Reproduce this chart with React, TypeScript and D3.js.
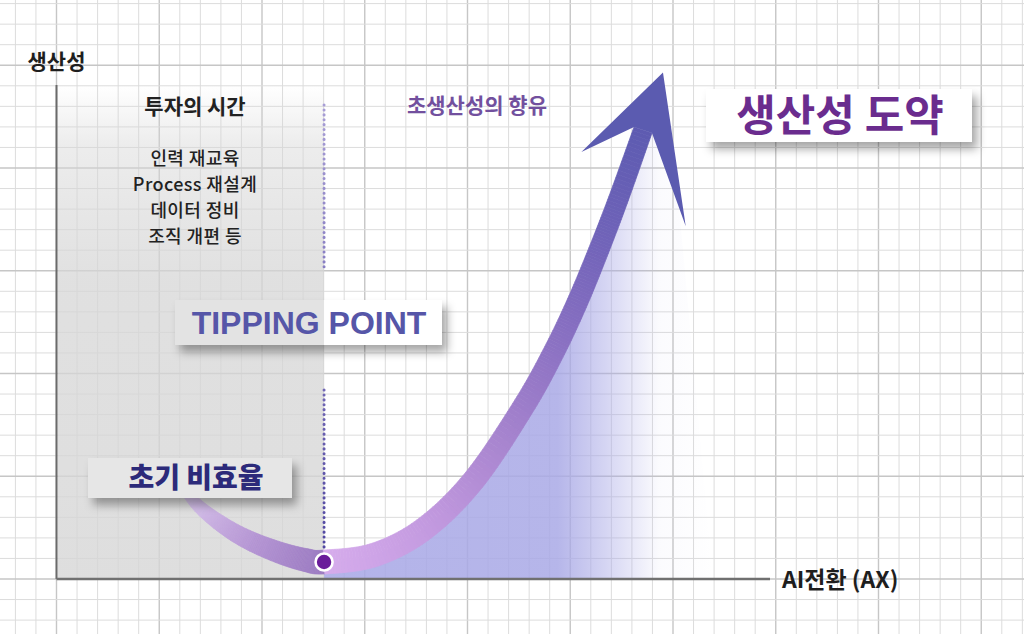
import React from 'react';
import * as d3 from 'd3';

const W = 1024;
const H = 634;

// ---------- data ----------
// J-curve: productivity (y) over AI transformation progress (x)
const curveX = [17.6, 20.2, 23.7, 27.2, 31.4, 34.9, 37.5, 44.5, 51.5, 58.5, 65.5, 69.7, 72.95, 75.9, 78.7, 82.2];
const curveY = [18.2, 14.2, 10.4, 7.6, 5.2, 3.8, 3.4, 4.8, 10.0, 19.8, 34.6, 45.4, 55.2, 65.4, 75.8, 89.8];
const arrowTip = { x: 85.0, y: 101.3 };
const tippingIndex = 6; // tipping point = curve minimum
const yAxisLabel = '생산성';
const xAxisLabel = 'AI전환 (AX)';
const phaseLeftTitle = '투자의 시간';
const phaseLeftItems = ['인력 재교육', 'Process 재설계', '데이터 정비', '조직 개편 등'];
const phaseRightTitle = '초생산성의 향유';
const tippingLabel = 'TIPPING POINT';
const earlyLabel = '초기 비효율';
const leapLabel = '생산성 도약';

// ---------- layout / style ----------
const xS = d3.scaleLinear().domain([0, 100]).range([56.5, 770]);
const yS = d3.scaleLinear().domain([0, 100]).range([579, 79]);
const KR = "'Noto Sans CJK KR', 'Noto Sans', sans-serif";
const GRID = 20.55;

function sampleCurve(pts: { x: number; y: number }[], tip: { x: number; y: number }, steps: number) {
  const out: { x: number; y: number }[] = [];
  const n = pts.length;
  for (let i = 0; i < n - 1; i++) {
    const p0 = pts[Math.max(0, i - 1)];
    const p1 = pts[i];
    const p2 = pts[i + 1];
    const p3 = i + 2 < n ? pts[i + 2] : tip;
    for (let j = 0; j < steps; j++) {
      const t = j / steps;
      const t2 = t * t, t3 = t2 * t;
      const f = (a: number, b: number, c: number, d: number) =>
        0.5 * (2 * b + (-a + c) * t + (2 * a - 5 * b + 4 * c - d) * t2 + (-a + 3 * b - 3 * c + d) * t3);
      out.push({ x: f(p0.x, p1.x, p2.x, p3.x), y: f(p0.y, p1.y, p2.y, p3.y) });
    }
  }
  out.push(pts[n - 1]);
  return out;
}

export default function App() {
  const pts = curveX.map((x, i) => ({ x: xS(x), y: yS(curveY[i]) }));
  const tip = { x: xS(arrowTip.x), y: yS(arrowTip.y) };
  const STEPS = 18;
  const samples = sampleCurve(pts, tip, STEPS);
  const tipIdx = tippingIndex * STEPS;
  const N = samples.length;

  const normals = samples.map((p, i) => {
    const a = samples[Math.max(0, i - 1)];
    const b = i === N - 1 ? tip : samples[Math.min(N - 1, i + 1)];
    const dx = b.x - a.x, dy = b.y - a.y;
    const L = Math.hypot(dx, dy) || 1;
    return { x: dy / L, y: -dx / L };
  });
  const cum: number[] = [0];
  for (let i = 1; i < N; i++) cum.push(cum[i - 1] + Math.hypot(samples[i].x - samples[i - 1].x, samples[i].y - samples[i - 1].y));
  const leftLen = cum[tipIdx];
  const rightLen = cum[N - 1] - cum[tipIdx];
  const widthAt = (i: number) => {
    if (i <= tipIdx) {
      const s = cum[i] / leftLen;
      return 5 + 19 * Math.sqrt(s);
    }
    const s = (cum[i] - leftLen) / rightLen;
    return 24 - 5 * s;
  };
  const leftColor = d3.interpolateRgbBasis(['#dccbee', '#c3a6dd', '#ad8ccf', '#9b7bc1']);
  const rightColor = d3.interpolateRgbBasis(['#d6acec', '#c49ae0', '#a683cd', '#8a70c2', '#6e62b8', '#5d5bb1']);

  const segs: { d: string; c: string }[] = [];
  for (let i = 0; i < N - 1; i++) {
    const p = samples[i], q = samples[i + 1];
    const np = normals[i], nq = normals[i + 1];
    const wp = widthAt(i) / 2;
    let wq = widthAt(i + 1) / 2;
    if (i + 1 === tipIdx) wq = widthAt(i) / 2;
    const poly = [
      [p.x + np.x * wp, p.y + np.y * wp],
      [q.x + nq.x * wq, q.y + nq.y * wq],
      [q.x - nq.x * wq, q.y - nq.y * wq],
      [p.x - np.x * wp, p.y - np.y * wp],
    ];
    const c = i < tipIdx ? leftColor(cum[i] / leftLen) : rightColor((cum[i] - leftLen) / rightLen);
    segs.push({ d: 'M' + poly.map((v) => v.join(',')).join('L') + 'Z', c });
  }

  // arrow head
  const B = samples[N - 1];
  const ux0 = tip.x - B.x, uy0 = tip.y - B.y;
  const uL = Math.hypot(ux0, uy0);
  const u = { x: ux0 / uL, y: uy0 / uL };
  const nv = { x: u.y, y: -u.x };
  const wEnd = widthAt(N - 1) / 2;
  const at = (back: number, side: number) => [B.x + u.x * back + nv.x * side, B.y + u.y * back + nv.y * side];
  const headPts = [at(0, wEnd), at(-41, 51), [tip.x, tip.y], at(-77, -72), at(0, -wEnd)];
  const headD = 'M' + headPts.map((v) => v.join(',')).join('L') + 'Z';

  // area fill right of tipping point
  const dot = samples[tipIdx];
  const areaPts: [number, number][] = [[dot.x, yS(0)]];
  for (let i = tipIdx; i < N; i++) areaPts.push([samples[i].x, samples[i].y]);
  areaPts.push([B.x + 30, B.y + 10]);
  areaPts.push([xS(92), yS(0)]);
  const areaD = d3.line()(areaPts) + 'Z';

  // grid
  const vLines: { x: number; major: boolean }[] = [];
  for (let k = -2; k * GRID + xS(0) < W; k++) vLines.push({ x: xS(0) + k * GRID, major: k % 5 === 0 });
  const hLines: { y: number; major: boolean }[] = [];
  for (let k = -2; yS(0) - k * GRID > 0; k++) hLines.push({ y: yS(0) - k * GRID, major: k % 5 === 0 });

  const x0 = xS(0), y0 = yS(0);
  const dotX = dot.x;

  return (
    <svg width={W} height={H} viewBox={`0 0 ${W} ${H}`} style={{ position: 'absolute', left: 0, top: 0, background: '#fff' }}>
      <defs>
        <filter id="shadow" x="-20%" y="-40%" width="150%" height="200%">
          <feDropShadow dx="5" dy="7" stdDeviation="5" floodColor="#000" floodOpacity="0.35" />
        </filter>
        <linearGradient id="grayGrad" gradientUnits="userSpaceOnUse" x1="0" y1={85} x2="0" y2={y0}>
          <stop offset="0" stopColor="#d6d6d6" stopOpacity="0" />
          <stop offset="0.12" stopColor="#d6d6d6" stopOpacity="0.45" />
          <stop offset="0.4" stopColor="#d6d6d6" stopOpacity="0.75" />
          <stop offset="1" stopColor="#d6d6d6" stopOpacity="0.8" />
        </linearGradient>
        <linearGradient id="areaGrad" gradientUnits="userSpaceOnUse" x1={dotX} y1="0" x2={xS(92)} y2="0">
          <stop offset="0" stopColor="#a9a9e6" stopOpacity="0.88" />
          <stop offset="0.6" stopColor="#a9a9e6" stopOpacity="0.85" />
          <stop offset="0.72" stopColor="#a9a9e6" stopOpacity="0.5" />
          <stop offset="0.86" stopColor="#a9a9e6" stopOpacity="0.05" />
          <stop offset="1" stopColor="#a9a9e6" stopOpacity="0" />
        </linearGradient>
        <linearGradient id="dotGrad" gradientUnits="userSpaceOnUse" x1="0" y1={105} x2="0" y2={dot.y}>
          <stop offset="0" stopColor="#a89ed6" />
          <stop offset="1" stopColor="#4e44a0" />
        </linearGradient>
      </defs>

      {/* grid */}
      <g>
        {vLines.map((l, i) => (
          <line key={'v' + i} x1={l.x} x2={l.x} y1={0} y2={H} stroke={l.major ? '#c6c6c6' : '#dcdcdc'} strokeWidth={l.major ? 1.4 : 1} />
        ))}
        {hLines.map((l, i) => (
          <line key={'h' + i} x1={0} x2={W} y1={l.y} y2={l.y} stroke={l.major ? '#c6c6c6' : '#dcdcdc'} strokeWidth={l.major ? 1.4 : 1} />
        ))}
      </g>

      {/* investment phase shading */}
      <rect x={x0 + 1} y={85} width={dotX - x0 - 1} height={y0 - 85} fill="url(#grayGrad)" />

      {/* productivity area */}
      <path d={areaD} fill="url(#areaGrad)" />

      {/* axes */}
      <line x1={x0} x2={x0} y1={85} y2={y0} stroke="#6a6a6a" strokeWidth={2} />
      <line x1={x0} x2={xS(100)} y1={y0} y2={y0} stroke="#707070" strokeWidth={2.5} />

      {/* tipping point dotted line */}
      <line x1={dotX} x2={dotX} y1={105} y2={268} stroke="url(#dotGrad)" strokeWidth={3} strokeDasharray="0.1 4.8" strokeLinecap="round" />
      <line x1={dotX} x2={dotX} y1={390} y2={dot.y - 8} stroke="url(#dotGrad)" strokeWidth={3} strokeDasharray="0.1 4.8" strokeLinecap="round" />

      {/* ribbon */}
      <g>
        {segs.map((s, i) => (
          <path key={i} d={s.d} fill={s.c} stroke={s.c} strokeWidth={0.7} strokeLinejoin="round" />
        ))}
      </g>
      <path d={headD} fill="#5b5bb0" />

      {/* tipping point marker */}
      <circle cx={dot.x} cy={dot.y} r={8.5} fill="#6a1c9a" stroke="#fff" strokeWidth={2.6} />

      {/* axis labels */}
      <text x={x0} y={69} textAnchor="middle" fontFamily={KR} fontWeight={700} fontSize={21} fill="#1e1e1e">{yAxisLabel}</text>
      <text x={xS(100) + 12} y={588} fontFamily={KR} fontWeight={700} fontSize={23} fill="#1e1e1e">{xAxisLabel}</text>

      {/* phase texts */}
      <text x={195} y={113.5} textAnchor="middle" fontFamily={KR} fontWeight={700} fontSize={21} fill="#222">{phaseLeftTitle}</text>
      {phaseLeftItems.map((t, i) => (
        <text key={t} x={195} y={165 + i * 26.1} textAnchor="middle" fontFamily={KR} fontWeight={500} fontSize={18} letterSpacing={0.4} fill="#222">{t}</text>
      ))}
      <text x={477} y={112.5} textAnchor="middle" fontFamily={KR} fontWeight={700} fontSize={21} fill="#72509e">{phaseRightTitle}</text>

      {/* TIPPING POINT box */}
      <g>
        <rect x={175} y={300} width={267} height={45} fill="#fff" filter="url(#shadow)" />
        <rect x={175} y={300} width={dotX - 175} height={45} fill="#e3e3e3" />
        <text x={309} y={334} textAnchor="middle" fontFamily="'Liberation Sans', Arial, sans-serif" fontWeight={700} fontSize={32} fill="#5656a8">{tippingLabel}</text>
      </g>

      {/* early inefficiency box */}
      <g>
        <rect x={88} y={458} width={204} height={40} fill="#e6e6e6" filter="url(#shadow)" />
        <text x={196} y={488} textAnchor="middle" fontFamily={KR} fontWeight={800} fontSize={28} fill="#2c2a7a">{earlyLabel}</text>
      </g>

      {/* leap box */}
      <g>
        <rect x={706} y={89} width={266} height={53} fill="#fff" filter="url(#shadow)" />
        <text x={840} y={131} textAnchor="middle" fontFamily={KR} fontWeight={700} fontSize={43} fill="#6a2c8e">{leapLabel}</text>
      </g>
    </svg>
  );
}
